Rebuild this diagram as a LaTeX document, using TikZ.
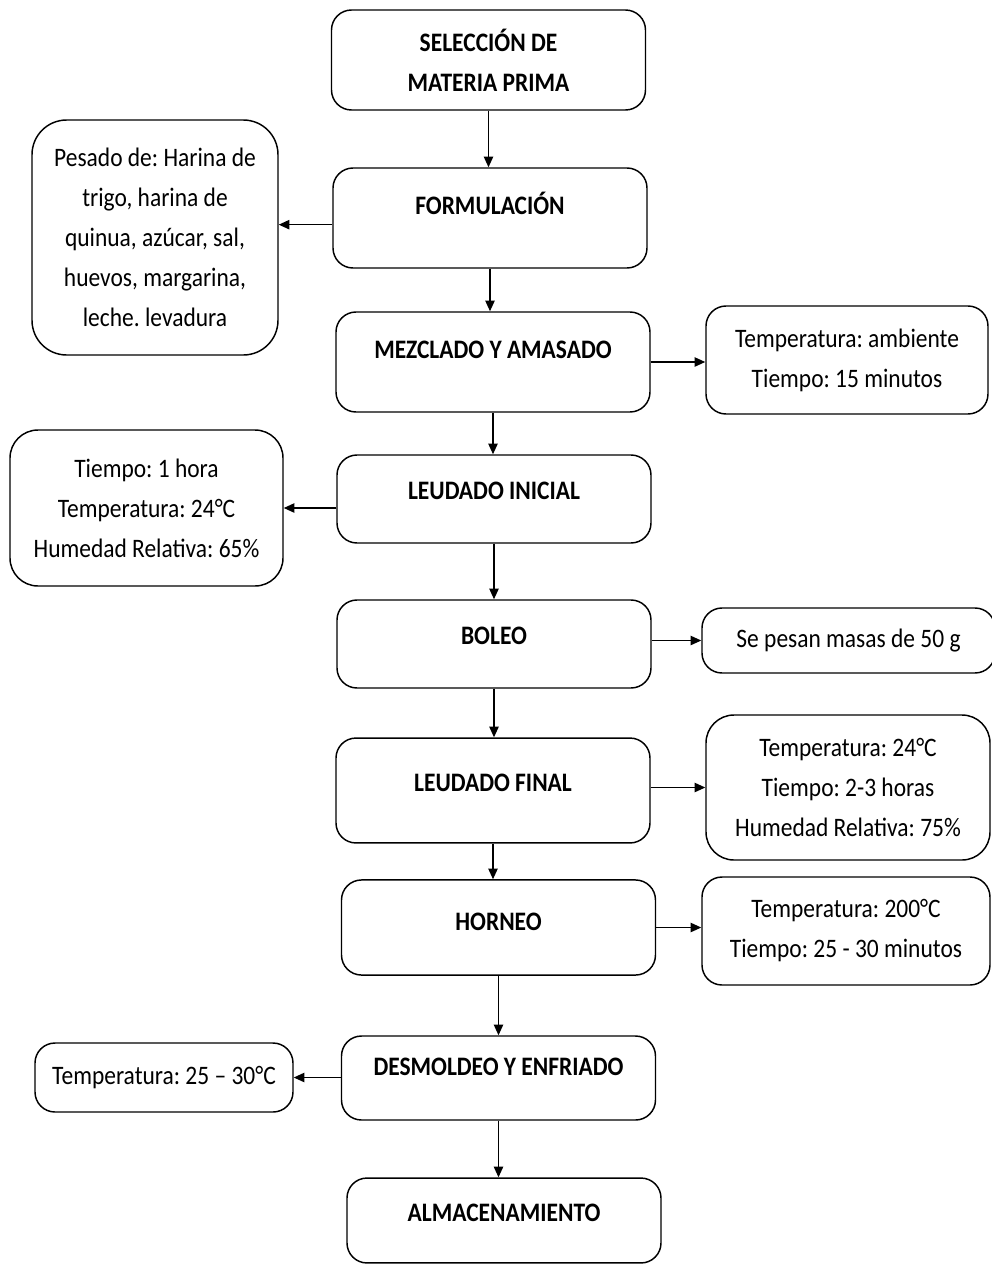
\documentclass[tikz,border=0pt]{standalone}
\usepackage{fontspec}
\setmainfont{Carlito}[FakeStretch=0.88]
\usetikzlibrary{arrows.meta}
\frenchspacing

\begin{document}
\begin{tikzpicture}[x=0.75pt, y=-0.75pt,
	every node/.style={draw, line width=1.1pt, rounded corners=15pt, align=center, inner sep=0pt, font=\fontsize{20}{30}\selectfont},
	stage/.style={minimum width=235.5pt, font=\fontsize{20}{30}\selectfont\bfseries},
	flow/.style={line width=1.1pt, -{Triangle[length=8pt, width=7pt]}}]
		% \draw[help lines, step=100] (0,0) grid (992,1264);
		\useasboundingbox (0,0) rectangle (992,1264);

		% process steps
		\node[stage, minimum height=75pt] (sel) at (488.5, 60) {SELECCIÓN DE\\MATERIA PRIMA};
		\node[stage, text height=34.9pt, text depth=40.1pt] (form) at (490, 218) {FORMULACIÓN};
		\node[stage, text height=34.9pt, text depth=40.1pt] (mez) at (493, 362) {MEZCLADO Y AMASADO};
		\node[stage, text height=33.4pt, text depth=32.6pt] (li) at (494, 499) {LEUDADO INICIAL};
		\node[stage, text height=33.4pt, text depth=32.6pt] (bol) at (494, 644) {BOLEO};
		\node[stage, text height=40.1pt, text depth=38.6pt] (lf) at (493, 790.5) {LEUDADO FINAL};
		\node[stage, text height=37.9pt, text depth=33.4pt] (horn) at (498.5, 927.5) {HORNEO};
		\node[stage, text height=29.6pt, text depth=33.4pt] (des) at (498.5, 1078) {DESMOLDEO Y ENFRIADO};
		\node[stage, text height=32.6pt, text depth=31.1pt] (alm) at (504, 1220.5) {ALMACENAMIENTO};

		% conditions
		\node[minimum width=184.5pt, minimum height=176.25pt, rounded corners=26pt] (pes) at (155, 237.5) {Pesado de: Harina de\\trigo, harina de\\quinua, azúcar, sal,\\huevos, margarina,\\leche. levadura};
		\node[minimum width=211.5pt, minimum height=81pt] (amb) at (847, 360) {Temperatura: ambiente\\Tiempo: 15 minutos};
		\node[minimum width=204.75pt, minimum height=117pt, rounded corners=21pt] (ini) at (146.5, 508) {Tiempo: 1 hora\\Temperatura: 24°C\\Humedad Relativa: 65\%};
		\node[minimum width=219.75pt, minimum height=48.75pt] (pes50) at (848.5, 640.5) {Se pesan masas de 50 g};
		\node[minimum width=213pt, minimum height=108.75pt, rounded corners=21pt] (fin) at (848, 787.5) {Temperatura: 24°C\\Tiempo: 2-3 horas\\Humedad Relativa: 75\%};
		\node[minimum width=216pt, minimum height=81pt] (hor) at (846, 931) {Temperatura: 200°C\\Tiempo: 25 - 30 minutos};
		\node[minimum width=193.5pt, minimum height=51.75pt] (enf) at (164, 1077.5) {Temperatura: 25 – 30°C};

		% main flow
		\draw[flow] (sel.south) -- (sel.south |- form.north);
		\draw[flow] (form.south) -- (form.south |- mez.north);
		\draw[flow] (mez.south) -- (mez.south |- li.north);
		\draw[flow] (li.south) -- (li.south |- bol.north);
		\draw[flow] (bol.south) -- (bol.south |- lf.north);
		\draw[flow] (lf.south) -- (lf.south |- horn.north);
		\draw[flow] (horn.south) -- (horn.south |- des.north);
		\draw[flow] (des.south) -- (des.south |- alm.north);

		% side branches
		\draw[flow] ([yshift=-5pt]form.west) -- ([yshift=-5pt]form.west -| pes.east);
		\draw[flow] (mez.east) -- (mez.east -| amb.west);
		\draw[flow] (li.west |- ini.east) -- (ini.east);
		\draw[flow] (bol.east |- pes50.west) -- (pes50.west);
		\draw[flow] (lf.east |- fin.west) -- (fin.west);
		\draw[flow] (horn.east) -- (horn.east -| hor.west);
		\draw[flow] (des.west |- enf.east) -- (enf.east);
	\end{tikzpicture}
\end{document}
